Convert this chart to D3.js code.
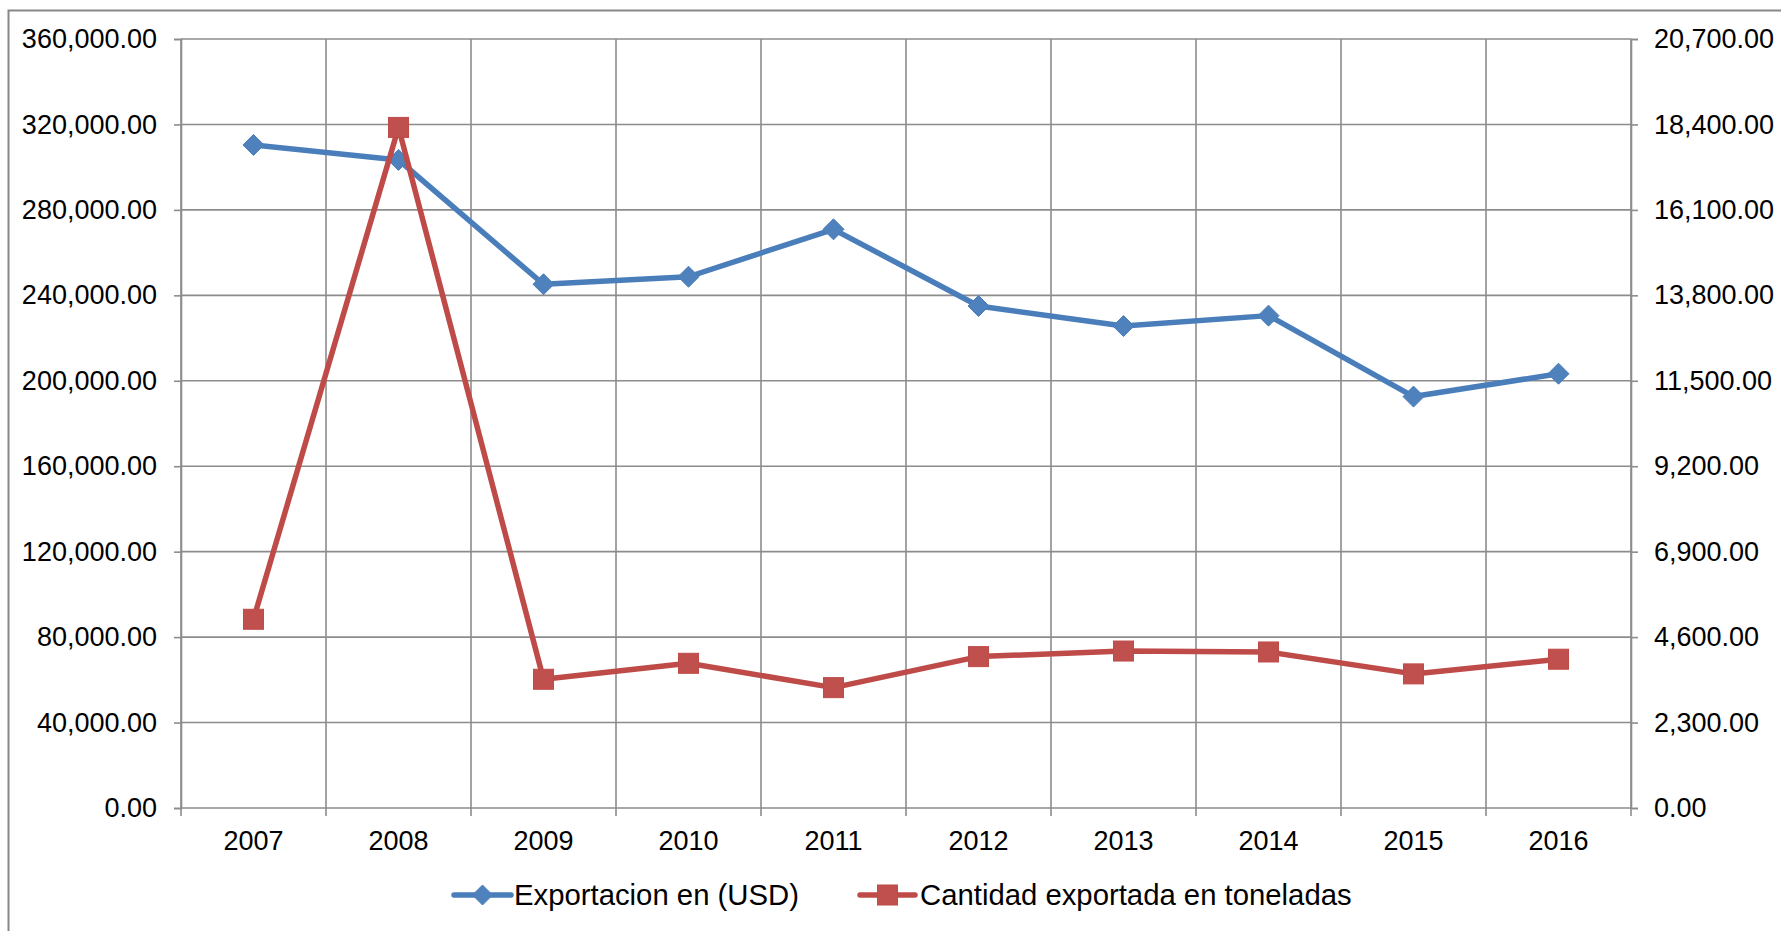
<html>
<head>
<title>Exportacion</title>
<script src="https://d3js.org/d3.v7.min.js"></script>
<style>
body { margin: 0; background: #fff; }
text { font-family: "Liberation Sans", Arial, Helvetica, sans-serif; fill: #000; }
</style>
</head>
<body>
<div id="canvas"></div>
<script>

var years = ["2007", "2008", "2009", "2010", "2011", "2012", "2013", "2014", "2015", "2016"];
var usd = [310400, 303400, 245200, 248700, 270900, 235000, 225600, 230500, 192600, 203300];
var tons = [5080, 18320, 3465, 3895, 3240, 4075, 4225, 4200, 3610, 4005];
var leftTicks = [0, 40000, 80000, 120000, 160000, 200000, 240000, 280000, 320000, 360000];
var rightTicks = [0, 2300, 4600, 6900, 9200, 11500, 13800, 16100, 18400, 20700];
var seriesNames = ["Exportacion en (USD)", "Cantidad exportada en toneladas"];

var W = 1781, H = 931;
var plotL = 181, plotR = 1631, plotT = 39, plotB = 808;
var grid = "#8c8c8c";
var blue = "#4a7ebb", blueFill = "#4f81bd";
var red = "#be4b48", redFill = "#c0504d";

var svg = d3.select("#canvas")
            .append("svg")
            .attr("width", W)
            .attr("height", H);

// outer chart frame (runs off the right and bottom edges)
svg.append("rect")
   .attr("x", 8.5).attr("y", 10.5)
   .attr("width", W + 20).attr("height", H + 20)
   .attr("fill", "none")
   .attr("stroke", "#878787")
   .attr("stroke-width", 2);

var x = d3.scaleBand().domain(years).range([plotL, plotR]).padding(0);
var yL = d3.scaleLinear().domain([0, 360000]).range([plotB, plotT]);
var yR = d3.scaleLinear().domain([0, 20700]).range([plotB, plotT]);
var fmt = d3.format(",.2f");

// horizontal gridlines
svg.append("g")
   .selectAll("line")
   .data(leftTicks)
   .enter()
   .append("line")
   .attr("x1", plotL).attr("x2", plotR)
   .attr("y1", function(d) { return yL(d); })
   .attr("y2", function(d) { return yL(d); })
   .attr("stroke", grid).attr("stroke-width", 1.6);

// vertical gridlines at band edges
var edges = years.map(function(d) { return x(d); }).concat([plotR]);
svg.append("g")
   .selectAll("line")
   .data(edges)
   .enter()
   .append("line")
   .attr("x1", function(d) { return d; })
   .attr("x2", function(d) { return d; })
   .attr("y1", plotT).attr("y2", plotB + 8)
   .attr("stroke", grid).attr("stroke-width", 1.6);

// left axis
var gl = svg.append("g")
            .attr("transform", "translate(" + plotL + ",0)")
            .call(d3.axisLeft(yL).tickValues(leftTicks).tickFormat(fmt).tickSize(7).tickPadding(17));
// right axis
var gr = svg.append("g")
            .attr("transform", "translate(" + plotR + ",0)")
            .call(d3.axisRight(yR).tickValues(rightTicks).tickFormat(fmt).tickSize(7).tickPadding(16));

[gl, gr].forEach(function(g) {
   g.select(".domain").attr("stroke", grid).attr("stroke-width", 1.6);
   g.selectAll(".tick line").attr("stroke", grid).attr("stroke-width", 1.6);
   g.selectAll(".tick text")
    .style("font-size", "27px")
    .style("font-family", "'Liberation Sans', Arial, sans-serif")
    .attr("fill", "#000");
});

// x labels
svg.append("g")
   .selectAll("text")
   .data(years)
   .enter()
   .append("text")
   .attr("x", function(d) { return x(d) + x.bandwidth() / 2; })
   .attr("y", 850)
   .attr("text-anchor", "middle")
   .style("font-size", "27px")
   .text(function(d) { return d; });

var cx = function(i) { return x(years[i]) + x.bandwidth() / 2; };

var lineL = d3.line().x(function(d, i) { return cx(i); }).y(function(d) { return yL(d); });
var lineR = d3.line().x(function(d, i) { return cx(i); }).y(function(d) { return yR(d); });

var diamond = function(px, py, r) {
   return "M" + px + "," + (py - r) + "L" + (px + r) + "," + py + "L" + px + "," + (py + r) + "L" + (px - r) + "," + py + "Z";
};

// USD series
svg.append("path")
   .attr("d", lineL(usd))
   .attr("fill", "none")
   .attr("stroke", blue)
   .attr("stroke-width", 5.5)
   .attr("stroke-linejoin", "round");

svg.append("g")
   .selectAll("path")
   .data(usd)
   .enter()
   .append("path")
   .attr("d", function(d, i) { return diamond(cx(i), yL(d), 10.5); })
   .attr("fill", blueFill)
   .attr("stroke", blue)
   .attr("stroke-width", 1);

// tonnage series
svg.append("path")
   .attr("d", lineR(tons))
   .attr("fill", "none")
   .attr("stroke", red)
   .attr("stroke-width", 5.5)
   .attr("stroke-linejoin", "round");

svg.append("g")
   .selectAll("rect")
   .data(tons)
   .enter()
   .append("rect")
   .attr("x", function(d, i) { return cx(i) - 10; })
   .attr("y", function(d) { return yR(d) - 10; })
   .attr("width", 20).attr("height", 20)
   .attr("fill", redFill)
   .attr("stroke", red)
   .attr("stroke-width", 1);

// legend
var ly = 895;
var leg = [
   { x1: 454, x2: 511, tx: 514, color: blue, fill: blueFill, kind: "d" },
   { x1: 860, x2: 915, tx: 920, color: red, fill: redFill, kind: "s" }
];
leg.forEach(function(l, i) {
   svg.append("line")
      .attr("x1", l.x1).attr("x2", l.x2)
      .attr("y1", ly).attr("y2", ly)
      .attr("stroke", l.color).attr("stroke-width", 5.5)
      .attr("stroke-linecap", "round");
   var m = (l.x1 + l.x2) / 2;
   if (l.kind == "d") {
      svg.append("path").attr("d", diamond(m, ly, 10)).attr("fill", l.fill).attr("stroke", l.color);
   } else {
      svg.append("rect").attr("x", m - 10).attr("y", ly - 10).attr("width", 20).attr("height", 20)
         .attr("fill", l.fill).attr("stroke", l.color);
   }
   svg.append("text")
      .attr("x", l.tx).attr("y", ly + 10)
      .style("font-size", "29.3px")
      .text(seriesNames[i]);
});

</script>
</body>
</html>
